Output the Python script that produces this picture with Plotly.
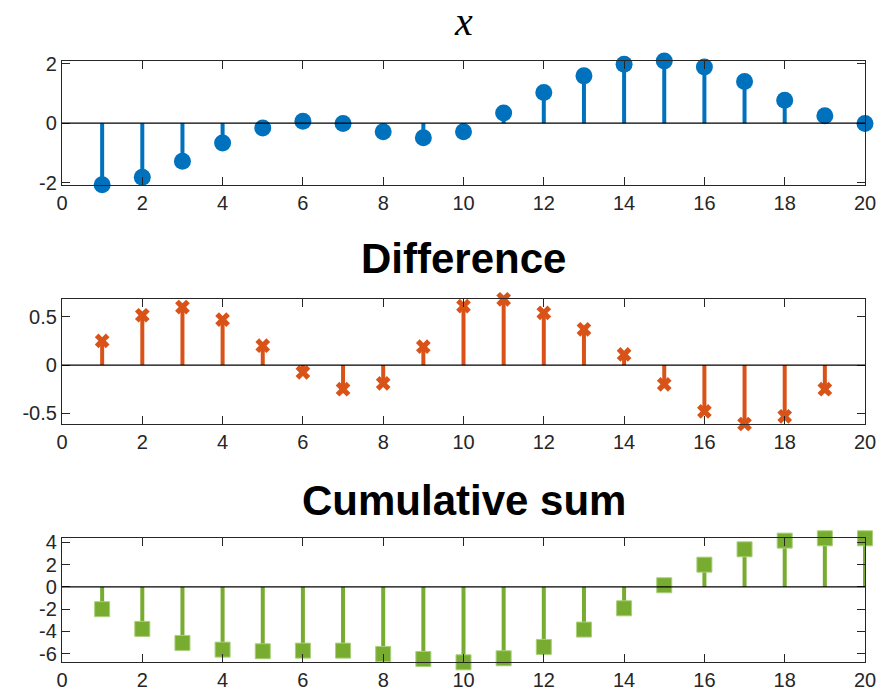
import plotly.graph_objects as go

# ---- data ----
n = list(range(1, 21))
x_vals = [-2.07, -1.82, -1.28, -0.67, -0.16, 0.06, -0.01, -0.29, -0.49, -0.29,
          0.34, 1.03, 1.59, 1.98, 2.09, 1.89, 1.40, 0.77, 0.25, -0.01]
n_diff = list(range(1, 20))
diff_vals = [0.25, 0.515, 0.60, 0.47, 0.20, -0.076, -0.25, -0.19, 0.19, 0.61,
             0.68, 0.54, 0.37, 0.11, -0.20, -0.48, -0.61, -0.53, -0.25]
cum_vals = [-2.0, -3.77, -5.03, -5.63, -5.78, -5.72, -5.72, -6.02, -6.47, -6.77,
            -6.41, -5.39, -3.83, -1.92, 0.15, 2.0, 3.38, 4.16, 4.37, 4.37]

titles = ["<i>x</i>", "Difference", "Cumulative sum"]
x_ticks = list(range(0, 21, 2))
y_ticks_1 = [-2, 0, 2]
y_ticks_2 = [-0.5, 0, 0.5]
y_ticks_3 = [-6, -4, -2, 0, 2, 4]
y_ticktext_1 = ["-2", "0", "2"]
y_ticktext_2 = ["-0.5", "0", "0.5"]
y_ticktext_3 = ["-6", "-4", "-2", "0", "2", "4"]

colors = ["#0072BD", "#D95319", "#77AC30"]

W, H = 877, 691
xdom = [62 / W, 865 / W]
ydoms = [[1 - 184.7 / H, 1 - 61 / H],
         [1 - 424 / H, 1 - 299.3 / H],
         [1 - 662.3 / H, 1 - 538.3 / H]]

fig = go.Figure()

def stems(xs, ys):
    sx, sy = [], []
    for a, b in zip(xs, ys):
        sx += [a, a, None]
        sy += [0, b, None]
    return sx, sy

series = [
    (n, x_vals, dict(symbol="circle", size=17, color=colors[0], line=dict(width=0))),
    (n_diff, diff_vals, dict(symbol="x", size=13, color=colors[1], line=dict(width=0))),
    (n, cum_vals, dict(symbol="square", size=15, color=colors[2],
                       line=dict(width=1, color="#A9D07A"))),
]

tickfont = dict(family="Liberation Sans, Arial, sans-serif", size=20, color="#262626")
ytv = [y_ticks_1, y_ticks_2, y_ticks_3]
ytt = [y_ticktext_1, y_ticktext_2, y_ticktext_3]

for i, (xs, ys, mk) in enumerate(series):
    xa = "x" if i == 0 else f"x{i+1}"
    ya = "y" if i == 0 else f"y{i+1}"
    sx, sy = stems(xs, ys)
    fig.add_trace(go.Scatter(x=sx, y=sy, mode="lines", xaxis=xa, yaxis=ya,
                             line=dict(color=colors[i], width=4),
                             hoverinfo="skip", showlegend=False, cliponaxis=False))
    fig.add_trace(go.Scatter(x=xs, y=ys, mode="markers", xaxis=xa, yaxis=ya,
                             marker=mk, showlegend=False, cliponaxis=False))
    # baseline
    fig.add_shape(type="line", xref=f"{xa} domain", yref=ya, x0=0, x1=1, y0=0, y1=0,
                  line=dict(color="#000000", width=1.3), layer="above")
    key = "" if i == 0 else str(i + 1)
    fig.layout[f"xaxis{key}"] = dict(
        domain=xdom, range=[0, 20], tickvals=x_ticks, ticks="inside", ticklen=8,
        tickcolor="#262626", showline=True, linecolor="#262626", linewidth=1.2,
        mirror="allticks", showgrid=False, zeroline=False, tickfont=tickfont,
        anchor=ya, fixedrange=True, automargin=False)
    fig.layout[f"yaxis{key}"] = dict(
        domain=ydoms[i], range=[min(ys), max(ys)], tickvals=ytv[i], ticktext=ytt[i],
        ticks="inside", ticklen=8, tickcolor="#262626", showline=True,
        linecolor="#262626", linewidth=1.2, mirror="allticks", showgrid=False,
        zeroline=False, tickfont=tickfont, anchor=xa, fixedrange=True, automargin=False)

title_y = [1 - 22 / H, 1 - 258 / H, 1 - 500 / H]
for i, t in enumerate(titles):
    xa = "x" if i == 0 else f"x{i+1}"
    if i == 0:
        font = dict(family="Liberation Serif, Times New Roman, serif", size=40, color="#000000")
    else:
        font = dict(family="Liberation Sans, Arial, sans-serif", size=42, color="#000000")
        t = f"<b>{t}</b>"
    fig.add_annotation(text=t, xref=f"{xa} domain", yref="paper", x=0.5, y=title_y[i],
                       xanchor="center", yanchor="middle", showarrow=False, font=font)

fig.update_layout(width=W, height=H, autosize=False, template="none",
                  margin=dict(l=0, r=0, t=0, b=0, pad=0),
                  paper_bgcolor="white", plot_bgcolor="white")

fig.write_html("out.html", config={"displayModeBar": False},
               post_script="document.body.style.margin='0';"
                           "document.body.style.overflow='hidden';")
